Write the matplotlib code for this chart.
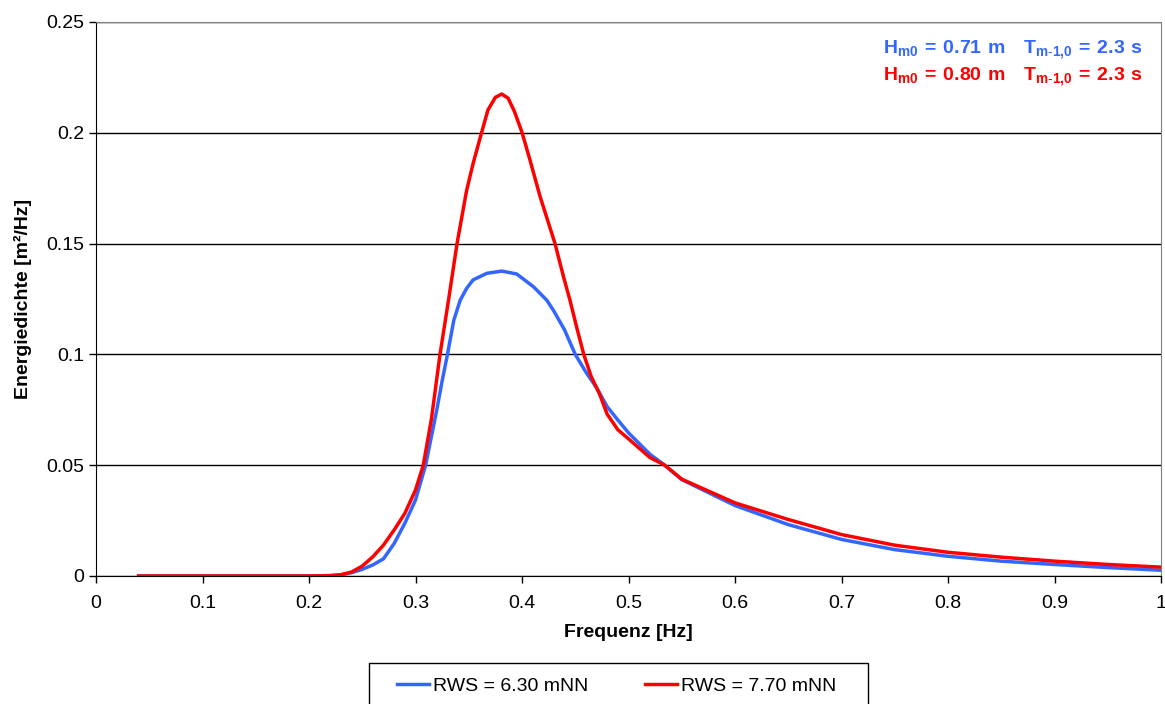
import numpy as np
import matplotlib
matplotlib.use('Agg')
import matplotlib.pyplot as plt
from matplotlib.patches import Rectangle

plt.rcParams['font.family'] = ['Liberation Sans', 'DejaVu Sans']
plt.rcParams['mathtext.fontset'] = 'custom'
plt.rcParams['mathtext.rm'] = 'Liberation Sans'
plt.rcParams['mathtext.bf'] = 'Liberation Sans:bold'

# spectra (frequency in Hz, energy density in m^2/Hz)
freq_blue = [0.04, 0.10, 0.15, 0.20, 0.22, 0.23, 0.24, 0.25, 0.26, 0.27, 0.28, 0.29,
             0.30, 0.3095, 0.32, 0.325, 0.33, 0.336, 0.342, 0.348, 0.354, 0.367,
             0.381, 0.395, 0.4106, 0.4232, 0.43, 0.44, 0.45, 0.46, 0.47, 0.48, 0.49,
             0.50, 0.52, 0.534, 0.55, 0.60, 0.65, 0.70, 0.75, 0.80, 0.85, 0.90,
             0.95, 1.00]
blue = [0, 0, 0, 0, 0.0001, 0.0005, 0.0015, 0.003, 0.005, 0.0078, 0.0147, 0.0238,
        0.0343, 0.050, 0.075, 0.088, 0.100, 0.1155, 0.1245, 0.1298, 0.1336, 0.1366,
        0.1376, 0.1363, 0.1306, 0.1245, 0.1195, 0.111, 0.100, 0.092, 0.085, 0.0764,
        0.0704, 0.0646, 0.055, 0.050, 0.0435, 0.0318, 0.0232, 0.0165, 0.0119,
        0.0089, 0.0067, 0.0052, 0.0038, 0.0026]

freq_red = [0.04, 0.10, 0.15, 0.20, 0.22, 0.23, 0.24, 0.25, 0.26, 0.27, 0.28, 0.29,
            0.30, 0.3073, 0.315, 0.323, 0.331, 0.339, 0.348, 0.354, 0.362, 0.368,
            0.375, 0.381, 0.387, 0.393, 0.400, 0.4075, 0.417, 0.425, 0.431, 0.439,
            0.445, 0.452, 0.458, 0.465, 0.473, 0.48, 0.49, 0.50, 0.52, 0.534, 0.55,
            0.60, 0.65, 0.70, 0.75, 0.80, 0.85, 0.90, 0.95, 1.00]
red = [0, 0, 0, 0, 0.0002, 0.0006, 0.0018, 0.0045, 0.0087, 0.014, 0.0208, 0.0283,
       0.0388, 0.050, 0.071, 0.100, 0.1245, 0.150, 0.174, 0.186, 0.200, 0.2103,
       0.216, 0.2175, 0.2156, 0.2095, 0.2002, 0.1877, 0.1712, 0.1591, 0.150, 0.135,
       0.1245, 0.111, 0.100, 0.090, 0.0819, 0.073, 0.066, 0.0619, 0.0535, 0.050,
       0.0437, 0.033, 0.0255, 0.0187, 0.0139, 0.0107, 0.0085, 0.0067, 0.0052, 0.0040]

labels = ['RWS = 6.30 mNN', 'RWS = 7.70 mNN']
colors = ['#3366FF', '#FF0000']
notes = [r'$\mathbf{H_{m0}\,=\,0.71\ m\quad T_{m\text{-}1{,}0}\,=\,2.3\ s}$',
         r'$\mathbf{H_{m0}\,=\,0.80\ m\quad T_{m\text{-}1{,}0}\,=\,2.3\ s}$']

fig = plt.figure(figsize=(11.65, 7.04), dpi=100)
ax = fig.add_axes([96/1165, 1-576/704, (1161-96)/1165, (576-22)/704])

ax.plot(freq_blue, blue, color=colors[0], lw=2.5, label=labels[0], solid_joinstyle='round')
ax.plot(freq_red, red, color=colors[1], lw=2.5, label=labels[1], solid_joinstyle='round')

ax.set_xlim(0, 1)
ax.set_ylim(0, 0.25)
ax.set_xticks(np.arange(0, 1.01, 0.1))
ax.set_xticklabels(['0', '0.1', '0.2', '0.3', '0.4', '0.5', '0.6', '0.7', '0.8', '0.9', '1'])
ax.set_yticks(np.arange(0, 0.251, 0.05))
ax.set_yticklabels(['0', '0.05', '0.1', '0.15', '0.2', '0.25'])
ax.tick_params(labelsize=14, length=5, width=1, colors='black', direction='out')
ax.tick_params(axis='x', pad=9)
ax.yaxis.grid(True, color='black', lw=1)
ax.set_axisbelow(True)
for s in ['top', 'right']:
    ax.spines[s].set_color('#808080')
ax.spines['left'].set_color('black')
ax.spines['bottom'].set_color('black')

ax.set_xlabel('Frequenz [Hz]', fontsize=14, fontweight='bold', labelpad=8)
ax.set_ylabel('Energiedichte [m²/Hz]', fontsize=14, fontweight='bold', labelpad=10)

fig.text(1143/1165, 1-50/704, notes[0], color=colors[0], fontsize=14, ha='right', va='center')
fig.text(1143/1165, 1-77/704, notes[1], color=colors[1], fontsize=14, ha='right', va='center')

# legend box runs off the bottom edge of the figure
fig.patches.append(Rectangle((369/1165, -0.05), (868-369)/1165, 1-663/704+0.05,
                             transform=fig.transFigure, fill=False,
                             edgecolor='black', lw=1))
fig.legend(loc='center left', bbox_to_anchor=(397/1165, 1-686/704), ncol=2,
           fontsize=14, frameon=False, handlelength=1.65, handletextpad=0.2,
           columnspacing=2.9, borderpad=0, borderaxespad=0)

fig.savefig('out.png', dpi=100)
